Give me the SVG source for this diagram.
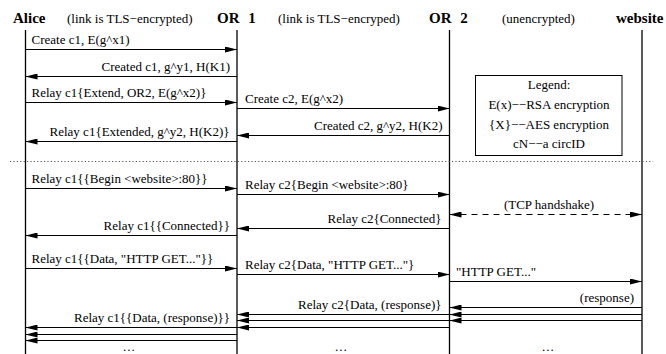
<svg xmlns="http://www.w3.org/2000/svg" width="666" height="354" viewBox="0 0 666 354">
<style>
.hdr{font-family:"Liberation Serif","Times New Roman",serif;font-weight:bold;font-size:15px;fill:#000}
.note{font-family:"Liberation Serif","Times New Roman",serif;font-size:13px;fill:#000}
.lbl{font-family:"Liberation Serif","Times New Roman",serif;font-size:13px;fill:#000}
.life{stroke:#000;stroke-width:1.3;fill:none}
.msg{stroke:#000;stroke-width:1;fill:none;marker-end:url(#ah)}
.dash{stroke:#000;stroke-width:1;fill:none;stroke-dasharray:6 5;marker-end:url(#ah);marker-start:url(#ahs)}
.dot{stroke:#555;stroke-width:1;stroke-dasharray:1.2 2.2;fill:none}
.r{text-anchor:end}
.c{text-anchor:middle}
</style>
<defs>
<marker id="ah" markerWidth="12" markerHeight="6" refX="12" refY="3" orient="auto" markerUnits="userSpaceOnUse">
<path d="M0,0 L12,3 L0,6 Z" fill="#000"/>
</marker>
<marker id="ahs" markerWidth="12" markerHeight="6" refX="0" refY="3" orient="auto" markerUnits="userSpaceOnUse">
<path d="M12,0 L0,3 L12,6 Z" fill="#000"/>
</marker>
</defs>
<rect width="666" height="354" fill="#fff"/>

<g id="alice">
<text class="hdr" x="13" y="23">Alice</text>
<line class="life" x1="25.5" y1="30" x2="25.5" y2="354"/>
</g>
<g id="or1">
<text class="hdr" x="217" y="23" word-spacing="5">OR 1</text>
<line class="life" x1="237" y1="30" x2="237" y2="354"/>
</g>
<g id="or2">
<text class="hdr" x="429" y="23" word-spacing="5">OR 2</text>
<line class="life" x1="449.5" y1="30" x2="449.5" y2="354"/>
</g>
<g id="website">
<text class="hdr" x="616" y="23">website</text>
<line class="life" x1="642" y1="30" x2="642" y2="354"/>
</g>
<g id="link-notes">
<text class="note" x="67" y="23">(link is TLS−encrypted)</text>
<text class="note" x="278" y="23">(link is TLS−encryped)</text>
<text class="note" x="502" y="23">(unencrypted)</text>
</g>

<g id="legend">
<rect x="475.5" y="75.5" width="146.5" height="80" fill="#fff" stroke="#000" stroke-width="1"/>
<text class="lbl c" x="549" y="89">Legend:</text>
<text class="lbl c" x="549" y="109">E(x)−−RSA encryption</text>
<text class="lbl c" x="549" y="128.5">{X}−−AES encryption</text>
<text class="lbl c" x="549" y="147.5">cN−−a circID</text>
</g>

<g id="separator">
<line class="dot" x1="10" y1="161.5" x2="653" y2="161.5"/>
</g>

<g id="connectors">
<line class="msg" x1="25.5" y1="49.5" x2="237" y2="49.5"/>
<line class="msg" x1="237" y1="76.5" x2="25.5" y2="76.5"/>
<line class="msg" x1="25.5" y1="102.5" x2="237" y2="102.5"/>
<line class="msg" x1="237" y1="108.5" x2="449.5" y2="108.5"/>
<line class="msg" x1="449.5" y1="135.5" x2="237" y2="135.5"/>
<line class="msg" x1="237" y1="141.5" x2="25.5" y2="141.5"/>

<line class="msg" x1="25.5" y1="188.5" x2="237" y2="188.5"/>
<line class="msg" x1="237" y1="194.5" x2="449.5" y2="194.5"/>
<line class="dash" x1="449.5" y1="214.5" x2="642" y2="214.5"/>
<line class="msg" x1="449.5" y1="228.5" x2="237" y2="228.5"/>
<line class="msg" x1="237" y1="235.5" x2="25.5" y2="235.5"/>

<line class="msg" x1="25.5" y1="268.5" x2="237" y2="268.5"/>
<line class="msg" x1="237" y1="274.5" x2="449.5" y2="274.5"/>
<line class="msg" x1="449.5" y1="281.5" x2="642" y2="281.5"/>

<line class="msg" x1="642" y1="307.5" x2="449.5" y2="307.5"/>
<line class="msg" x1="642" y1="314.5" x2="449.5" y2="314.5"/>
<line class="msg" x1="642" y1="320.5" x2="449.5" y2="320.5"/>

<line class="msg" x1="449.5" y1="314.5" x2="237" y2="314.5"/>
<line class="msg" x1="449.5" y1="320.5" x2="237" y2="320.5"/>
<line class="msg" x1="449.5" y1="327.5" x2="237" y2="327.5"/>

<line class="msg" x1="237" y1="327.5" x2="25.5" y2="327.5"/>
<line class="msg" x1="237" y1="334.5" x2="25.5" y2="334.5"/>
<line class="msg" x1="237" y1="340.5" x2="25.5" y2="340.5"/>
</g>

<g id="labels">
<text class="lbl" x="31.5" y="44">Create c1, E(g^x1)</text>
<text class="lbl r" x="230" y="70.5">Created c1, g^y1, H(K1)</text>
<text class="lbl" x="31.5" y="97">Relay c1{Extend, OR2, E(g^x2)}</text>
<text class="lbl" x="245" y="103">Create c2, E(g^x2)</text>
<text class="lbl r" x="442.5" y="129.5">Created c2, g^y2, H(K2)</text>
<text class="lbl r" x="229.5" y="136">Relay c1{Extended, g^y2, H(K2)}</text>

<text class="lbl" x="31.5" y="183">Relay c1{{Begin &lt;website&gt;:80}}</text>
<text class="lbl" x="245" y="189">Relay c2{Begin &lt;website&gt;:80}</text>
<text class="lbl c" x="549" y="208.5">(TCP handshake)</text>
<text class="lbl r" x="441.5" y="223">Relay c2{Connected}</text>
<text class="lbl r" x="230" y="229.5">Relay c1{{Connected}}</text>

<text class="lbl" x="31.5" y="263">Relay c1{{Data, "HTTP GET..."}}</text>
<text class="lbl" x="245" y="269">Relay c2{Data, "HTTP GET..."}</text>
<text class="lbl" x="456" y="276">"HTTP GET..."</text>
<text class="lbl r" x="634" y="302">(response)</text>
<text class="lbl r" x="441.5" y="309">Relay c2{Data, (response)}</text>
<text class="lbl r" x="230" y="322">Relay c1{{Data, (response)}}</text>

<text class="lbl" x="123" y="351" letter-spacing="1">...</text>
<text class="lbl" x="335" y="351" letter-spacing="1">...</text>
<text class="lbl" x="542" y="351" letter-spacing="1">...</text>
</g>
</svg>
